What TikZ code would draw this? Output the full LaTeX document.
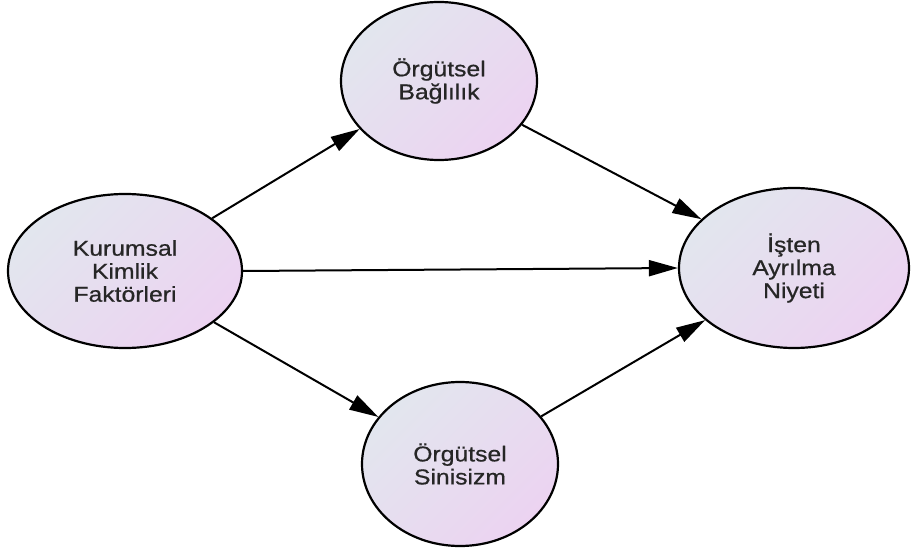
\documentclass[tikz,border=0pt]{standalone}
\usepackage{fontspec}
\setmainfont[FakeStretch=1.15,FakeBold=0.7]{Liberation Sans}
\usetikzlibrary{shapes.geometric,arrows.meta}
\definecolor{ca}{HTML}{E2E6EE}
\definecolor{cb}{HTML}{ECD3F1}
\tikzset{
  var/.style={ellipse, draw=black, line width=2.2pt, inner sep=0pt,
    left color=ca, right color=cb, shading angle=45,
    align=center, font=\fontsize{21.5}{23}\selectfont, text=black!85},
  arr/.style={line width=2pt, -{Triangle[length=29pt,width=16pt]}}
}
\begin{document}
\begin{tikzpicture}[x=1pt,y=-1pt]
\useasboundingbox (0,0) rectangle (911,548);
\node[var, minimum width=196pt, minimum height=158pt] (ob) at (439,81) {Örgütsel\\Bağlılık};
\node[var, minimum width=234pt, minimum height=154pt] (kk) at (125,271) {Kurumsal\\Kimlik\\Faktörleri};
\node[var, minimum width=230pt, minimum height=160pt] (ia) at (794,268) {İşten\\Ayrılma\\Niyeti};
\node[var, minimum width=196pt, minimum height=164pt] (os) at (460,464) {Örgütsel\\Sinisizm};
\draw[arr] (kk) -- (ob);
\draw[arr] (ob) -- (ia);
\draw[arr] (kk.east) -- (ia.west);
\draw[arr] (kk) -- (os);
\draw[arr] (os) -- (ia);
\end{tikzpicture}
\end{document}
